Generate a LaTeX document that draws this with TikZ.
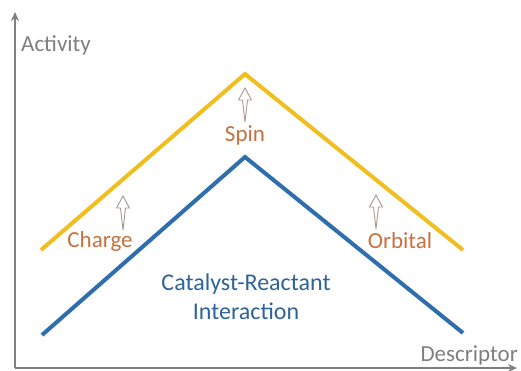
\documentclass[tikz,border=0pt]{standalone}
\usepackage{fontspec}
\setmainfont{Carlito}
\usetikzlibrary{arrows.meta}
\definecolor{axisgray}{HTML}{7F7F7F}
\definecolor{goldline}{HTML}{F0BE1E}
\definecolor{blueline}{HTML}{2E6EAE}
\definecolor{orangetxt}{HTML}{C8703F}
\definecolor{bluetxt}{HTML}{2E6399}
\definecolor{hollowarrow}{HTML}{A8988E}
\tikzset{
  axis/.style={draw=axisgray, line width=1.5pt, -{Stealth[length=9pt,width=8pt]}},
  axislabel/.style={text=axisgray, font=\fontsize{23}{27}\selectfont, inner sep=0pt},
  gold/.style={draw=goldline, line width=4pt, line join=miter},
  blue/.style={draw=blueline, line width=4pt, line join=miter},
  factor/.style={text=orangetxt, font=\fontsize{23}{27}\selectfont, inner sep=0pt},
  inter/.style={text=bluetxt, font=\fontsize{24}{29}\selectfont, inner sep=0pt, align=center},
  hollow/.style={draw=hollowarrow, line width=0.9pt, fill=white, line join=round},
}
\newcommand{\hollowup}[2]{%
  \draw[hollow] (#1,#2) -- ++(6.5,12) -- ++(-4,0) -- ++(-2.5,22) -- ++(-2.5,-22) -- ++(-4,0) -- cycle;}
\begin{document}
\begin{tikzpicture}[x=1pt,y=-1pt]
\useasboundingbox (0,0) rectangle (521,370);
% axes
\coordinate (origin) at (15,368);
\coordinate (ytop) at (15,12);
\coordinate (xend) at (517,368);
\draw[axis] (origin) -- (ytop);
\draw[axis] (origin) -- (xend);
\node[axislabel, anchor=west] (activity) at (21,45) {Activity};
\node[axislabel, anchor=east] (descriptor) at (518,355) {Descriptor};
% gold line
\coordinate (g1) at (41,250);
\coordinate (g2) at (245,74);
\coordinate (g3) at (463,250);
\draw[gold] (g1) -- (g2) -- (g3);
% blue line
\coordinate (b1) at (42,335);
\coordinate (b2) at (245,157);
\coordinate (b3) at (463,333);
\draw[blue] (b1) -- (b2) -- (b3);
% hollow arrows
\hollowup{245}{88}
\hollowup{123}{196}
\hollowup{376}{195}
% labels
\node[factor] (spin) at (245,135) {Spin};
\node[factor] (charge) at (100,241) {Charge};
\node[factor] (orbital) at (400,241) {Orbital};
\node[inter] (cri) at (246,297) {Catalyst-Reactant\\Interaction};
\end{tikzpicture}
\end{document}
